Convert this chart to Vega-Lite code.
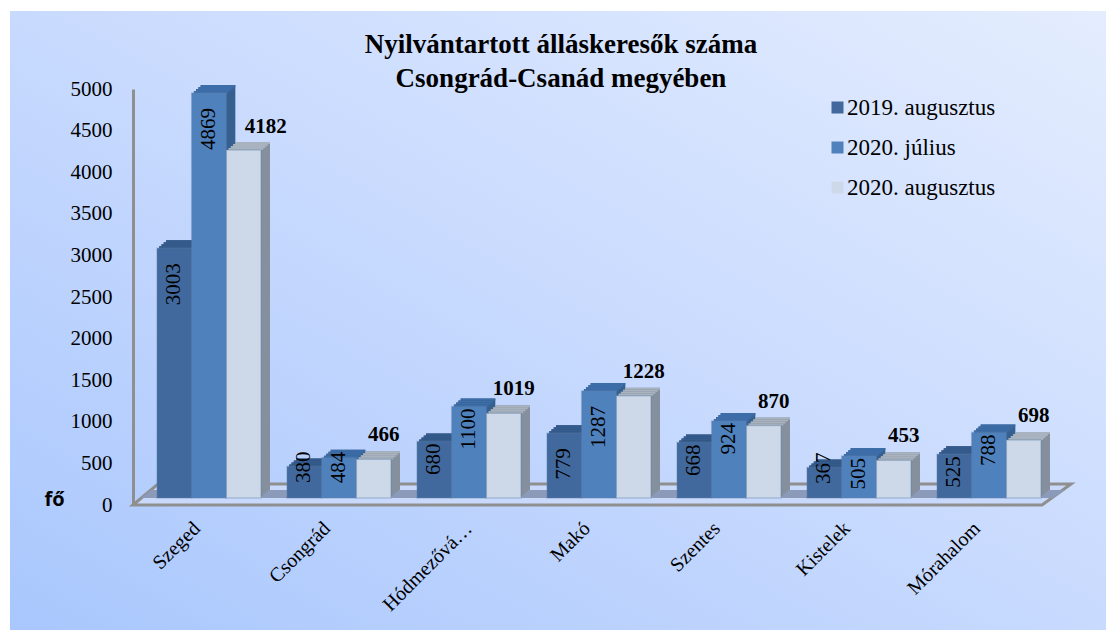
{"$schema":"https://vega.github.io/schema/vega-lite/v6.json","width":1096,"height":619,"autosize":"none","padding":{"left":10,"top":11,"right":0,"bottom":0},"background":"#ffffff",
"title":{"text":["Nyilvántartott álláskeresők száma","Csongrád-Csanád megyében"],"font":"Liberation Serif","fontSize":27,"fontWeight":"bold","color":"#000000","lineHeight":34,"anchor":"middle","baseline":"top","dx":3,"dy":86},
"config":{"view":{"stroke":null,"fill":{"x1":0,"y1":1,"x2":1,"y2":0,"gradient":"linear","stops":[{"offset":0,"color":"#a9c7fd"},{"offset":0.5,"color":"#c8dafe"},{"offset":1,"color":"#e4edfe"}]}},"text":{"font":"Liberation Serif"}},
"datasets":{"jobs":[
{"city":"Szeged","series":"2019. augusztus","v":3003},{"city":"Szeged","series":"2020. július","v":4869},{"city":"Szeged","series":"2020. augusztus","v":4182},
{"city":"Csongrád","series":"2019. augusztus","v":380},{"city":"Csongrád","series":"2020. július","v":484},{"city":"Csongrád","series":"2020. augusztus","v":466},
{"city":"Hódmezővá…","series":"2019. augusztus","v":680},{"city":"Hódmezővá…","series":"2020. július","v":1100},{"city":"Hódmezővá…","series":"2020. augusztus","v":1019},
{"city":"Makó","series":"2019. augusztus","v":779},{"city":"Makó","series":"2020. július","v":1287},{"city":"Makó","series":"2020. augusztus","v":1228},
{"city":"Szentes","series":"2019. augusztus","v":668},{"city":"Szentes","series":"2020. július","v":924},{"city":"Szentes","series":"2020. augusztus","v":870},
{"city":"Kistelek","series":"2019. augusztus","v":367},{"city":"Kistelek","series":"2020. július","v":505},{"city":"Kistelek","series":"2020. augusztus","v":453},
{"city":"Mórahalom","series":"2019. augusztus","v":525},{"city":"Mórahalom","series":"2020. július","v":788},{"city":"Mórahalom","series":"2020. augusztus","v":698}]},
"resolve":{"scale":{"x":"independent"},"axis":{"x":"independent"}},
"layer":[
{"data":{"values":[{"p":-0.085,"a":0,"b":0},{"p":0.108,"a":0,"b":252},{"p":6.908,"a":0,"b":252},{"p":7.131,"a":252,"b":252}]},
"mark":{"type":"area","fill":"#c8d9fc","stroke":"#8f8f8f","strokeWidth":3},
"encoding":{"x":{"field":"p","type":"quantitative","axis":null,"scale":{"domain":[-1,8],"range":[4,1174],"nice":false,"zero":false}},"y":{"field":"a","type":"quantitative"},"y2":{"field":"b"}}},
{"data":{"values":[{"p":-0.023,"a":84,"b":84},{"p":0.054,"a":84,"b":180},{"p":6.992,"a":84,"b":180},{"p":7.085,"a":180,"b":180}]},
"mark":{"type":"area","fill":"#8c9ab9"},
"encoding":{"x":{"field":"p","type":"quantitative","axis":null,"scale":{"domain":[-1,8],"range":[4,1174],"nice":false,"zero":false}},"y":{"field":"a","type":"quantitative"},"y2":{"field":"b"}}},
{"data":{"name":"jobs"},
"resolve":{"scale":{"xOffset":"independent"}},
"encoding":{
"x":{"field":"city","type":"nominal","sort":null,"title":null,"scale":{"range":[134,1044],"paddingInner":0.2,"paddingOuter":0.1},"axis":{"offset":-125,"domain":false,"ticks":false,"labelAngle":-45,"labelAlign":"right","labelBaseline":"middle","labelPadding":20,"labelOffset":{"condition":{"test":"datum.value==='Hódmezővá…'","value":0},"value":-12},"labelFont":"Liberation Serif","labelFontSize":20,"labelColor":"#000000","labelLimit":200}},
"xOffset":{"field":"series","type":"nominal","sort":null,"scale":{"domain":["2019. augusztus","2020. július","2020. augusztus"],"range":[0,104]}},
"y":{"field":"v","type":"quantitative","stack":null,"title":"fő","scale":{"domain":[0,5000],"range":[494,78],"nice":false},"axis":{"offset":-123,"values":[0,500,1000,1500,2000,2500,3000,3500,4000,4500,5000],"format":"d","grid":false,"ticks":false,"domainColor":"#8f8f8f","domainWidth":3,"labelFont":"Liberation Serif","labelFontSize":21,"labelColor":"#000000","labelPadding":21,"titleAngle":0,"titleFont":"Open Sans","titleFontSize":20,"titleFontWeight":"bold","titleColor":"#000000","titleX":-79,"titleY":498,"titleAlign":"center"}}},
"layer":[
{"mark":{"type":"bar","yOffset":-15,"y2Offset":-15},"encoding":{"xOffset":{"field":"series","type":"nominal","sort":null,"scale":{"domain":["2019. augusztus","2020. július","2020. augusztus"],"range":[9,113]}},"y2":{"datum":0},"fill":{"condition":[{"test":"datum.series==='2019. augusztus'","value":"#2f5380"},{"test":"datum.series==='2020. július'","value":"#36608f"}],"value":"#858f9e"}}},
{"mark":{"type":"bar","yOffset":-15,"y2Offset":-13},"encoding":{"xOffset":{"field":"series","type":"nominal","sort":null,"scale":{"domain":["2019. augusztus","2020. július","2020. augusztus"],"range":[9,113]}},"y2":{"field":"v"},"fill":{"condition":[{"test":"datum.series==='2019. augusztus'","value":"#345b8c"},{"test":"datum.series==='2020. július'","value":"#3c6da8"}],"value":"#a9b3bf"}}},
{"mark":{"type":"bar","yOffset":-13,"y2Offset":-13},"encoding":{"xOffset":{"field":"series","type":"nominal","sort":null,"scale":{"domain":["2019. augusztus","2020. július","2020. augusztus"],"range":[6.75,110.75]}},"y2":{"datum":0},"fill":{"condition":[{"test":"datum.series==='2019. augusztus'","value":"#2f5380"},{"test":"datum.series==='2020. július'","value":"#36608f"}],"value":"#858f9e"}}},
{"mark":{"type":"bar","yOffset":-13,"y2Offset":-11},"encoding":{"xOffset":{"field":"series","type":"nominal","sort":null,"scale":{"domain":["2019. augusztus","2020. július","2020. augusztus"],"range":[6.75,110.75]}},"y2":{"field":"v"},"fill":{"condition":[{"test":"datum.series==='2019. augusztus'","value":"#345b8c"},{"test":"datum.series==='2020. július'","value":"#3c6da8"}],"value":"#a9b3bf"}}},
{"mark":{"type":"bar","yOffset":-11,"y2Offset":-11},"encoding":{"xOffset":{"field":"series","type":"nominal","sort":null,"scale":{"domain":["2019. augusztus","2020. július","2020. augusztus"],"range":[4.5,108.5]}},"y2":{"datum":0},"fill":{"condition":[{"test":"datum.series==='2019. augusztus'","value":"#2f5380"},{"test":"datum.series==='2020. július'","value":"#36608f"}],"value":"#858f9e"}}},
{"mark":{"type":"bar","yOffset":-11,"y2Offset":-9},"encoding":{"xOffset":{"field":"series","type":"nominal","sort":null,"scale":{"domain":["2019. augusztus","2020. július","2020. augusztus"],"range":[4.5,108.5]}},"y2":{"field":"v"},"fill":{"condition":[{"test":"datum.series==='2019. augusztus'","value":"#345b8c"},{"test":"datum.series==='2020. július'","value":"#3c6da8"}],"value":"#a9b3bf"}}},
{"mark":{"type":"bar","yOffset":-9,"y2Offset":-9},"encoding":{"xOffset":{"field":"series","type":"nominal","sort":null,"scale":{"domain":["2019. augusztus","2020. július","2020. augusztus"],"range":[2.25,106.25]}},"y2":{"datum":0},"fill":{"condition":[{"test":"datum.series==='2019. augusztus'","value":"#2f5380"},{"test":"datum.series==='2020. július'","value":"#36608f"}],"value":"#858f9e"}}},
{"mark":{"type":"bar","yOffset":-9,"y2Offset":-7},"encoding":{"xOffset":{"field":"series","type":"nominal","sort":null,"scale":{"domain":["2019. augusztus","2020. július","2020. augusztus"],"range":[2.25,106.25]}},"y2":{"field":"v"},"fill":{"condition":[{"test":"datum.series==='2019. augusztus'","value":"#345b8c"},{"test":"datum.series==='2020. július'","value":"#3c6da8"}],"value":"#a9b3bf"}}},
{"mark":{"type":"bar","yOffset":-7,"y2Offset":-7,"stroke":"#5f7ea8","strokeOpacity":0.35,"strokeWidth":1.5},"encoding":{"y2":{"datum":0},"fill":{"field":"series","type":"nominal","sort":null,"scale":{"domain":["2019. augusztus","2020. július","2020. augusztus"],"range":["#41699d","#4f81bd","#cdd9e8"]},"legend":{"title":null,"orient":"none","legendX":816,"legendY":85,"symbolType":"square","symbolSize":144,"symbolStrokeWidth":0,"labelFont":"Liberation Serif","labelFontSize":23,"labelColor":"#000000","labelOffset":-2,"rowPadding":16}}}},
{"transform":[{"filter":{"field":"series","equal":"2020. augusztus"}},{"filter":"datum.v<2000"}],"mark":{"type":"text","font":"Liberation Serif","fontWeight":"bold","fontSize":21,"dx":10,"yOffset":-31,"baseline":"middle","color":"#000000"},"encoding":{"text":{"field":"v"}}},
{"transform":[{"filter":{"field":"series","equal":"2020. augusztus"}},{"filter":"datum.v>2000"}],"mark":{"type":"text","font":"Liberation Serif","fontWeight":"bold","fontSize":21,"dx":22,"yOffset":-30,"baseline":"middle","color":"#000000"},"encoding":{"text":{"field":"v"}}},
{"transform":[{"filter":{"field":"v","oneOf":[680,1100,668,924,505,525,788]}}],"mark":{"type":"text","font":"Liberation Serif","fontSize":21,"angle":-90,"align":"right","baseline":"middle","yOffset":-5,"color":"#000000"},"encoding":{"text":{"field":"v"}}},
{"transform":[{"filter":{"field":"v","oneOf":[779,3003,4869,1287]}}],"mark":{"type":"text","font":"Liberation Serif","fontSize":21,"angle":-90,"align":"right","baseline":"middle","yOffset":8,"color":"#000000"},"encoding":{"text":{"field":"v"}}},
{"transform":[{"filter":{"field":"v","oneOf":[380,367]}}],"mark":{"type":"text","font":"Liberation Serif","fontSize":21,"angle":-90,"align":"right","baseline":"middle","yOffset":-22,"color":"#000000"},"encoding":{"text":{"field":"v"}}},
{"transform":[{"filter":{"field":"v","equal":484}}],"mark":{"type":"text","font":"Liberation Serif","fontSize":21,"angle":-90,"align":"right","baseline":"middle","yOffset":-13,"color":"#000000"},"encoding":{"text":{"field":"v"}}}
]}
]}
